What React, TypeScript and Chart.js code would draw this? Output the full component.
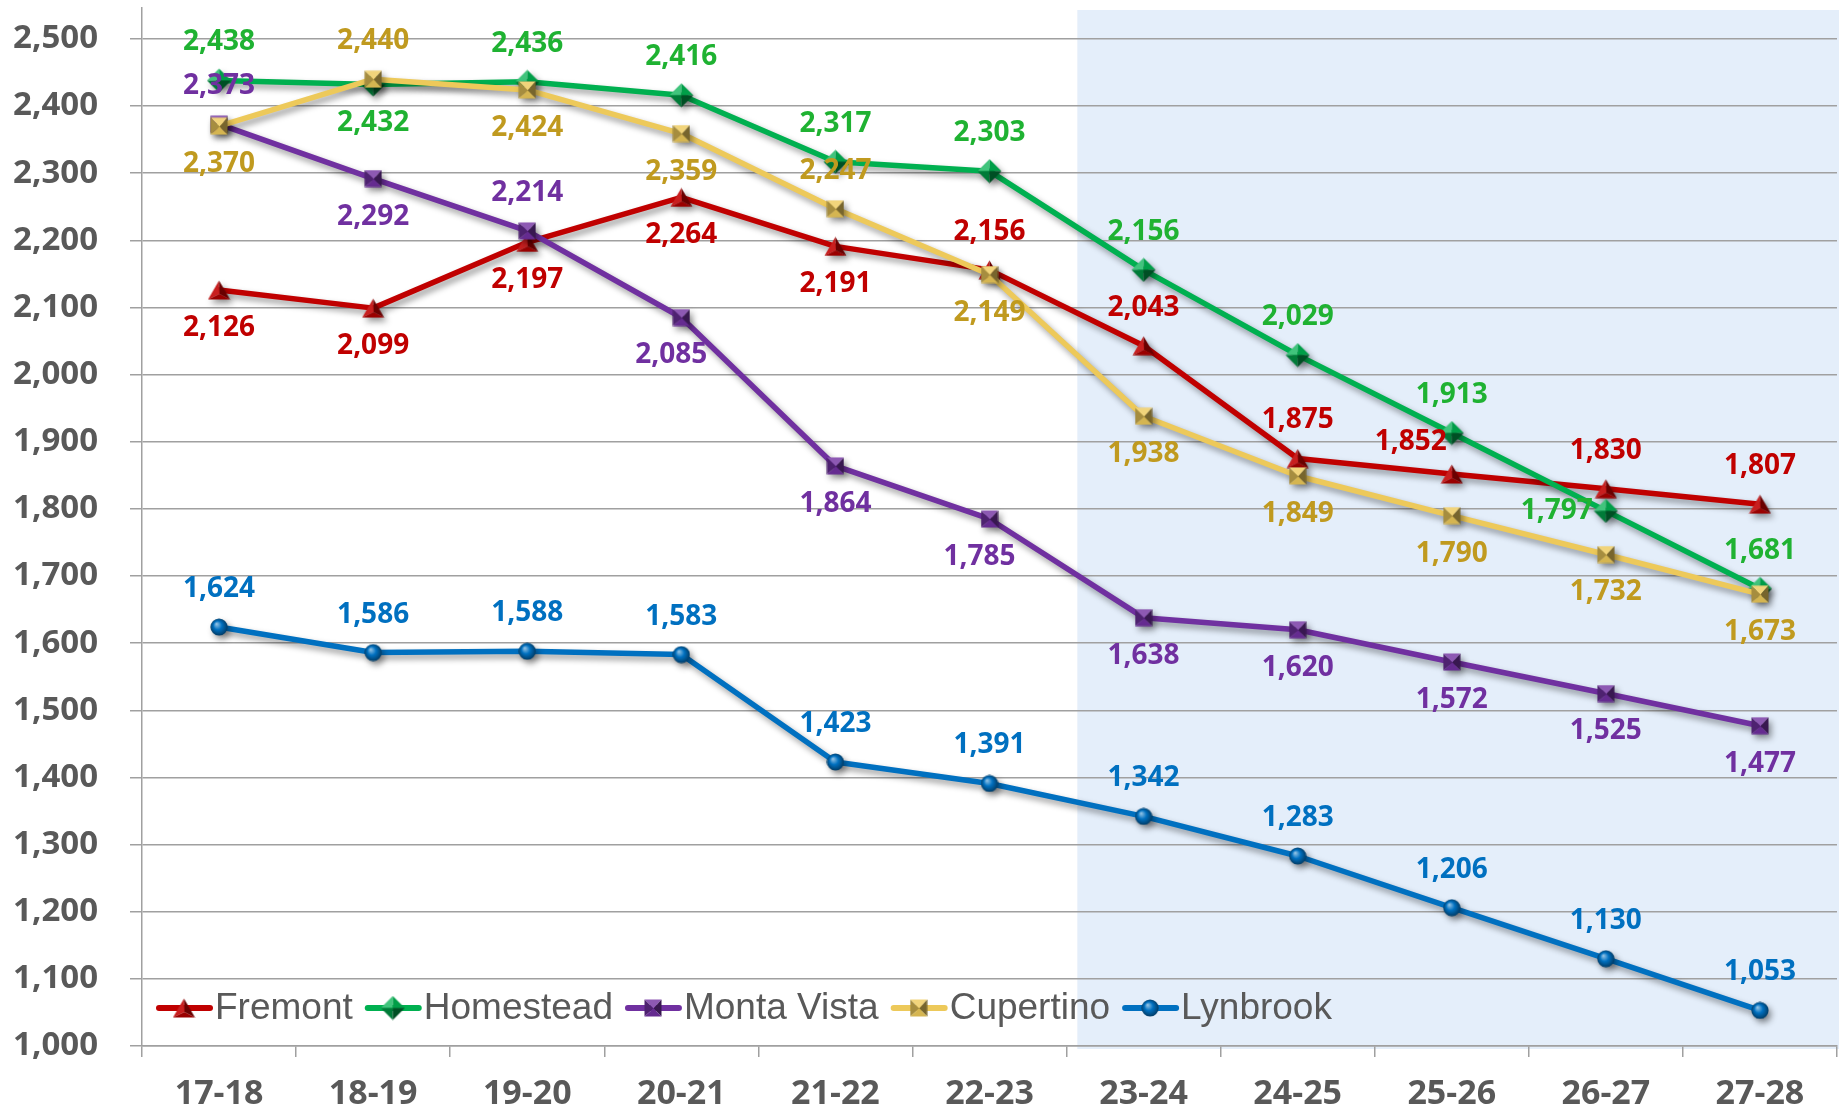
import React, { useEffect, useRef } from "react";
import { Chart, registerables } from "chart.js";

Chart.register(...registerables);

// ---------- DATA ----------
const categories = ["17-18", "18-19", "19-20", "20-21", "21-22", "22-23", "23-24", "24-25", "25-26", "26-27", "27-28"];
const seriesNames = ["Fremont", "Homestead", "Monta Vista", "Cupertino", "Lynbrook"];
const fremont = [2126, 2099, 2197, 2264, 2191, 2156, 2043, 1875, 1852, 1830, 1807];
const homestead = [2438, 2432, 2436, 2416, 2317, 2303, 2156, 2029, 1913, 1797, 1681];
const montaVista = [2373, 2292, 2214, 2085, 1864, 1785, 1638, 1620, 1572, 1525, 1477];
const cupertino = [2370, 2440, 2424, 2359, 2247, 2149, 1938, 1849, 1790, 1732, 1673];
const lynbrook = [1624, 1586, 1588, 1583, 1423, 1391, 1342, 1283, 1206, 1130, 1053];
const yTickValues = [1000, 1100, 1200, 1300, 1400, 1500, 1600, 1700, 1800, 1900, 2000, 2100, 2200, 2300, 2400, 2500];
const forecastStart = 6; // first projected category ("23-24")

// label placement codes: a = above, b = below, l = left, al = above-left, bl = below-left
const fremontLabelPos = ["b", "b", "b", "b", "b", "a", "a", "a", "al", "a", "a"];
const homesteadLabelPos = ["a", "b", "a", "a", "a", "a", "a", "a", "a", "l", "a"];
const montaVistaLabelPos = ["a", "b", "a", "bl", "b", "bl", "b", "b", "b", "b", "b"];
const cupertinoLabelPos = ["b", "a", "b", "b", "a", "b", "b", "b", "b", "b", "b"];
const lynbrookLabelPos = ["a", "a", "a", "a", "a", "a", "a", "a", "a", "a", "a"];

// ---------- STYLE ----------
const lineColors = ["#C00000", "#00B050", "#7030A0", "#EDC95A", "#0070C0"];
const labelColors = ["#C00000", "#1FB232", "#7030A0", "#C09A1F", "#0070C0"];
const markerShapes = ["triangle", "diamond", "square", "square", "circle"];
const AXIS_GRAY = "#A0A0A0";
const TEXT_GRAY = "#595959";
const BOLD_FONT = "'Open Sans', 'DejaVu Sans', sans-serif";
const LEGEND_FONT = "'Liberation Sans', Arial, sans-serif";

function shade(hex: string, f: number): string {
  const n = parseInt(hex.slice(1), 16);
  let r = (n >> 16) & 255, g = (n >> 8) & 255, b = n & 255;
  if (f >= 0) {
    r += (255 - r) * f; g += (255 - g) * f; b += (255 - b) * f;
  } else {
    r *= 1 + f; g *= 1 + f; b *= 1 + f;
  }
  return `rgb(${Math.round(r)},${Math.round(g)},${Math.round(b)})`;
}

function poly(ctx: CanvasRenderingContext2D, pts: number[][], fill: string) {
  ctx.beginPath();
  ctx.moveTo(pts[0][0], pts[0][1]);
  for (let i = 1; i < pts.length; i++) ctx.lineTo(pts[i][0], pts[i][1]);
  ctx.closePath();
  ctx.fillStyle = fill;
  ctx.fill();
}

function makeMarker(shape: string, color: string): HTMLCanvasElement {
  const c = document.createElement("canvas");
  const ctx = c.getContext("2d") as CanvasRenderingContext2D;
  if (shape === "triangle") {
    c.width = 23; c.height = 20;
    const apex = [11.5, 0.5], bl = [0.5, 19.5], br = [22.5, 19.5], inner = [12, 14];
    poly(ctx, [apex, bl, inner], shade(color, 0.12));
    poly(ctx, [apex, inner, br], shade(color, -0.45));
    poly(ctx, [bl, br, inner], shade(color, -0.2));
  } else if (shape === "diamond") {
    c.width = 25; c.height = 25;
    const ce = [12.5, 12.5], t = [12.5, 0.5], r = [24.5, 12.5], b = [12.5, 24.5], l = [0.5, 12.5];
    poly(ctx, [t, l, ce], shade(color, 0.25));
    poly(ctx, [t, ce, r], shade(color, -0.1));
    poly(ctx, [l, b, ce], shade(color, -0.3));
    poly(ctx, [ce, b, r], shade(color, -0.55));
  } else if (shape === "square") {
    c.width = 18; c.height = 18;
    const tl = [0.5, 0.5], tr = [17.5, 0.5], brc = [17.5, 17.5], blc = [0.5, 17.5], ce = [9.5, 9.5];
    poly(ctx, [tl, tr, ce], shade(color, 0.2));
    poly(ctx, [tl, ce, blc], shade(color, -0.3));
    poly(ctx, [tr, brc, ce], shade(color, -0.5));
    poly(ctx, [blc, ce, brc], shade(color, -0.1));
  } else {
    c.width = 18; c.height = 18;
    const g = ctx.createRadialGradient(6.5, 6, 0.5, 9, 9, 9);
    g.addColorStop(0, shade(color, 0.55));
    g.addColorStop(0.45, color);
    g.addColorStop(1, shade(color, -0.5));
    ctx.beginPath();
    ctx.arc(9, 9, 8.6, 0, Math.PI * 2);
    ctx.fillStyle = g;
    ctx.fill();
  }
  return c;
}

const labelOffsets: Record<string, number[]> = {
  a: [0, -38],
  b: [0, 38],
  l: [-49, 0],
  al: [-41, -32],
  bl: [-10, 38],
};

const fmt = (v: number) => v.toLocaleString("en-US");

export default function App() {
  const canvasRef = useRef<HTMLCanvasElement | null>(null);

  useEffect(() => {
    const canvas = canvasRef.current;
    if (!canvas) return;
    const seriesData = [fremont, homestead, montaVista, cupertino, lynbrook];
    const labelPos = [fremontLabelPos, homesteadLabelPos, montaVistaLabelPos, cupertinoLabelPos, lynbrookLabelPos];
    const markers = markerShapes.map((s, i) => makeMarker(s, lineColors[i]));

    const shadePlugin = {
      id: "forecastShade",
      beforeDraw(chart: any) {
        const { ctx, chartArea, scales } = chart;
        const x = scales.x;
        const step = x.getPixelForValue(1) - x.getPixelForValue(0);
        const left = x.getPixelForValue(forecastStart) - step * 0.43;
        ctx.save();
        ctx.fillStyle = "#E4EEFA";
        ctx.fillRect(left, chartArea.top + 2, chart.width - left, chartArea.bottom - chartArea.top + 1);
        ctx.restore();
      },
    };

    const shadowPlugin = {
      id: "lineShadow",
      beforeDatasetDraw(chart: any) {
        const ctx = chart.ctx;
        ctx.save();
        ctx.shadowColor = "rgba(0,0,0,0.4)";
        ctx.shadowBlur = 6;
        ctx.shadowOffsetX = 3;
        ctx.shadowOffsetY = 4;
      },
      afterDatasetDraw(chart: any) {
        chart.ctx.restore();
      },
    };

    const labelPlugin = {
      id: "valueLabels",
      afterDatasetsDraw(chart: any) {
        const ctx = chart.ctx;
        ctx.save();
        ctx.font = `bold 28px ${BOLD_FONT}`;
        ctx.textAlign = "center";
        ctx.textBaseline = "middle";
        seriesData.forEach((vals, i) => {
          const meta = chart.getDatasetMeta(i);
          ctx.fillStyle = labelColors[i];
          vals.forEach((v, j) => {
            const pt = meta.data[j];
            const off = labelOffsets[labelPos[i][j]] || labelOffsets.a;
            ctx.fillText(fmt(v), pt.x + off[0], pt.y + off[1]);
          });
        });
        ctx.restore();
      },
    };

    const legendPlugin = {
      id: "insideLegend",
      afterDraw(chart: any) {
        const { ctx, chartArea } = chart;
        ctx.save();
        ctx.font = `37px ${LEGEND_FONT}`;
        ctx.textBaseline = "middle";
        ctx.textAlign = "left";
        let x = chartArea.left + 14;
        const y = chartArea.bottom - 38;
        seriesNames.forEach((name, i) => {
          ctx.strokeStyle = lineColors[i];
          ctx.lineWidth = 6;
          ctx.lineCap = "round";
          ctx.beginPath();
          ctx.moveTo(x + 3, y);
          ctx.lineTo(x + 54, y);
          ctx.stroke();
          const m = markers[i];
          ctx.drawImage(m, x + 28 - m.width / 2, y - m.height / 2);
          ctx.fillStyle = TEXT_GRAY;
          ctx.fillText(name, x + 59, y + 1);
          x += 59 + ctx.measureText(name).width + 12;
        });
        ctx.restore();
      },
    };

    const chart = new Chart(canvas, {
      type: "line",
      data: {
        labels: categories,
        datasets: seriesData.map((d, i) => ({
          label: seriesNames[i],
          data: d,
          borderColor: lineColors[i],
          backgroundColor: lineColors[i],
          borderWidth: 5.5,
          borderCapStyle: "round",
          borderJoinStyle: "round",
          tension: 0,
          pointStyle: markers[i] as any,
          pointRadius: 6,
          pointBorderWidth: 0,
          order: seriesNames.length - i,
          fill: false,
        })),
      },
      options: {
        animation: false,
        responsive: false,
        devicePixelRatio: 1,
        layout: { autoPadding: false, padding: { top: 8, right: 2, left: 0, bottom: 0 } },
        plugins: {
          legend: { display: false },
          tooltip: { enabled: false },
        },
        events: [],
        scales: {
          x: {
            type: "category",
            offset: true,
            grid: {
              display: true,
              drawOnChartArea: false,
              drawTicks: true,
              tickLength: 11,
              color: AXIS_GRAY,
              lineWidth: 1.5,
              offset: true,
            },
            border: { display: true, color: AXIS_GRAY, width: 1.5 },
            ticks: {
              color: TEXT_GRAY,
              font: { family: BOLD_FONT, size: 34, weight: "bold" },
              padding: 17,
              maxRotation: 0,
              autoSkip: false,
            },
            afterFit: (s: any) => {
              s.height = 64;
              s.paddingLeft = 0;
              s.paddingRight = 0;
            },
          },
          y: {
            type: "linear",
            min: 1000,
            max: 2546,
            afterBuildTicks: (s: any) => {
              s.ticks = yTickValues.map((v) => ({ value: v }));
            },
            grid: {
              color: AXIS_GRAY,
              lineWidth: 1.5,
              tickLength: 12,
              drawTicks: true,
            },
            border: { display: true, color: AXIS_GRAY, width: 1.5 },
            ticks: {
              color: TEXT_GRAY,
              font: { family: BOLD_FONT, size: 33, weight: "bold", lineHeight: 0.4 },
              padding: 32,
              callback: (v: any) => fmt(Number(v)),
            },
            afterFit: (s: any) => {
              s.width = 142;
              s.paddingTop = 0;
              s.paddingBottom = 0;
            },
          },
        },
      } as any,
      plugins: [shadePlugin, shadowPlugin, labelPlugin, legendPlugin],
    });

    return () => chart.destroy();
  }, []);

  return (
    <div style={{ position: "fixed", left: 0, top: 0, width: 1839, height: 1110, background: "#FFFFFF" }}>
      <canvas ref={canvasRef} width={1839} height={1110} style={{ display: "block" }} />
    </div>
  );
}
